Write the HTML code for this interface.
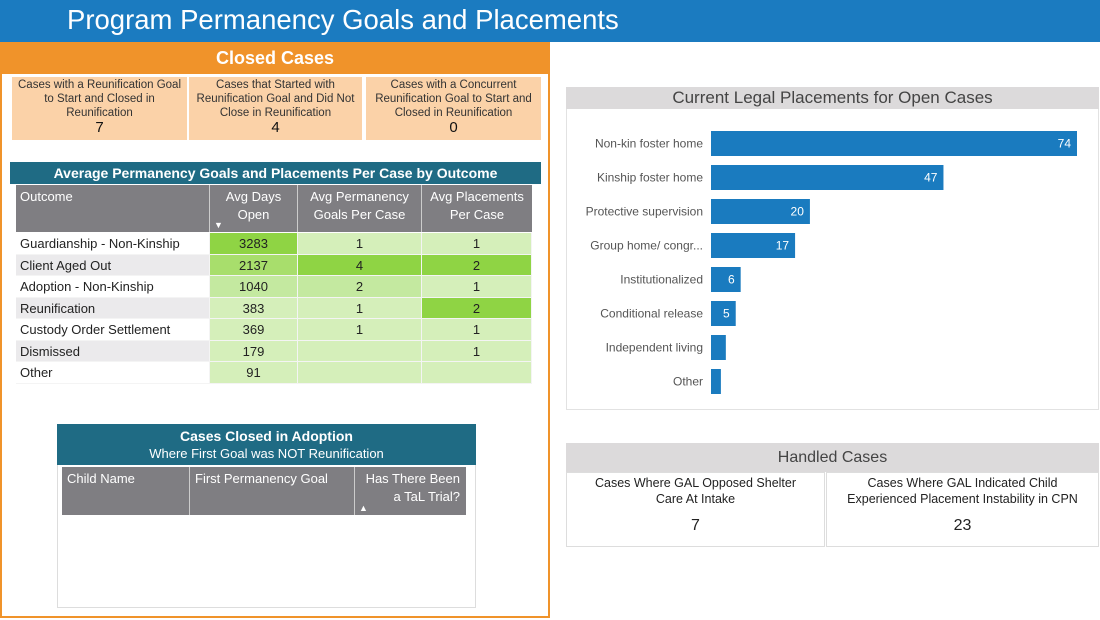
<!DOCTYPE html>
<html><head><meta charset="utf-8">
<style>
*{box-sizing:border-box;margin:0;padding:0}
body{width:1100px;height:620px;background:#fff;font-family:"Liberation Sans",sans-serif;position:relative;overflow:hidden}
.a{position:absolute}
.c{display:flex;align-items:center;justify-content:center;text-align:center}
.kpi{background:#fbd2a8;color:#333;font-size:11.5px;line-height:14px;top:77px;height:63px;padding:1px 4px 0;flex-direction:column;justify-content:flex-start}
.kpi b{font-weight:normal;font-size:15px;line-height:16px;color:#111}
.th{background:#7f7e82;color:#fff;font-size:13px;line-height:18px;border-right:1px solid #ccc}
.td{font-size:13px;color:#222;height:21.5px;line-height:21.5px}
</style></head><body>
<div class="a" style="left:0;top:0;width:1100px;height:42px;background:#1b7bc0"></div>
<div class="a" style="left:67px;top:4px;font-size:27.5px;color:#fff">Program Permanency Goals and Placements</div>

<div class="a" style="left:0;top:42px;width:550px;height:576px;border:2px solid #f0932a;border-top:none"></div>
<div class="a c" style="left:0;top:42px;width:550px;height:32px;background:#f0932a;color:#fff;font-size:18px;font-weight:bold">Closed Cases</div>

<div class="a c kpi" style="left:12px;width:175px">Cases with a Reunification Goal to Start and Closed in Reunification<b>7</b></div>
<div class="a c kpi" style="left:189px;width:173px">Cases that Started with Reunification Goal and Did Not Close in Reunification<b>4</b></div>
<div class="a c kpi" style="left:366px;width:175px">Cases with a Concurrent Reunification Goal to Start and Closed in Reunification<b>0</b></div>

<div class="a c" style="left:10px;top:162px;width:531px;height:22px;background:#1f6b84;color:#fff;font-size:14px;font-weight:bold">Average Permanency Goals and Placements Per Case by Outcome</div>
<div class="a" style="left:16px;top:185px;width:516px">
 <div style="display:flex;height:47px">
  <div class="th" style="width:194px;padding:3px 4px">Outcome</div>
  <div class="th" style="width:88px;text-align:center;padding-top:3px;position:relative">Avg Days<br>Open<span style="position:absolute;left:4px;bottom:-2px;font-size:9px">▼</span></div>
  <div class="th" style="width:124px;text-align:center;padding-top:3px">Avg Permanency Goals Per Case</div>
  <div class="th" style="width:110px;text-align:center;padding-top:3px;border-right:none">Avg Placements Per Case</div>
 </div>
 <div id="rows" style="margin-top:1px"></div>
</div>

<div class="a" style="left:57px;top:424px;width:419px;height:184px;border:1px solid #ddd"></div>
<div class="a c" style="left:57px;top:424px;width:419px;height:41px;background:#1f6b84;color:#fff;font-size:14px;line-height:18px;flex-direction:column"><b>Cases Closed in Adoption</b><span style="font-size:13px">Where First Goal was NOT Reunification</span></div>
<div class="a" style="left:62px;top:467px;width:404px;height:48px;display:flex">
 <div class="th" style="width:128px;padding:3px 5px">Child Name</div>
 <div class="th" style="width:165px;padding:3px 5px">First Permanency Goal</div>
 <div class="th" style="width:111px;text-align:right;padding:3px 6px;border-right:none;position:relative">Has There Been a TaL Trial?<span style="position:absolute;left:4px;bottom:-2px;font-size:9px">▲</span></div>
</div>

<div class="a" style="left:566px;top:87px;width:533px;height:323px;border:1px solid #e2e2e2"></div>
<div class="a c" style="left:566px;top:87px;width:533px;height:22px;background:#dcdadb;color:#444;font-size:17px">Current Legal Placements for Open Cases</div>
<svg class="a" id="chart" style="left:566px;top:110px" width="533" height="295"></svg>

<div class="a c" style="left:566px;top:443px;width:533px;height:29px;background:#dcdadb;color:#444;font-size:16px">Handled Cases</div>
<div class="a c" style="left:566px;top:472px;width:259px;height:75px;border:1px solid #ddd;flex-direction:column;justify-content:flex-start;font-size:12.5px;line-height:16px;color:#222;padding-top:2px">Cases Where GAL Opposed Shelter<br>Care At Intake<span style="font-size:16px;margin-top:11px">7</span></div>
<div class="a c" style="left:826px;top:472px;width:273px;height:75px;border:1px solid #ddd;flex-direction:column;justify-content:flex-start;font-size:12.5px;line-height:16px;color:#222;padding-top:2px">Cases Where GAL Indicated Child<br>Experienced Placement Instability in CPN<span style="font-size:16px;margin-top:11px">23</span></div>

<script>
const outcomes=["Guardianship - Non-Kinship","Client Aged Out","Adoption - Non-Kinship","Reunification","Custody Order Settlement","Dismissed","Other"];
const avgDays=[3283,2137,1040,383,369,179,91];
const avgGoals=[1,4,2,1,1,null,null];
const avgPlacements=[1,2,1,2,1,1,null];
function shade(v,max){if(v==null||v<=1)return"#d5efba";const t=v/max;return t>0.9?"#8fd444":(t>0.55?"#a8de6c":(t>0.3?"#c4e9a0":"#d5efba"));}
const rows=document.getElementById('rows');
outcomes.forEach((o,i)=>{
 const r=document.createElement('div');r.style.display='flex';
 
 
 const cells=[[o,194,i%2?'#ebeaec':'#fff','left'],[avgDays[i],88,shade(avgDays[i],3283),'center'],[avgGoals[i]??'',124,shade(avgGoals[i],4),'center'],[avgPlacements[i]??'',110,shade(avgPlacements[i],2),'center']];
 cells.forEach(c=>{const d=document.createElement('div');d.className='td';d.textContent=c[0];d.style.width=c[1]+'px';d.style.background=c[2];d.style.textAlign=c[3];d.style.paddingLeft=c[3]=='left'?'4px':'0';d.style.borderRight='1px solid #f4f4f4';d.style.borderBottom='1px solid #f4f4f4';
 
 
 r.appendChild(d);});
 rows.appendChild(r);
});
const cats=["Non-kin foster home","Kinship foster home","Protective supervision","Group home/ congr...","Institutionalized","Conditional release","Independent living","Other"];
const vals=[74,47,20,17,6,5,3,2];
const svg=document.getElementById('chart');const NS="http://www.w3.org/2000/svg";
const x0=145,xs=366/74,y=i=>21+i*34,bh=25;
cats.forEach((c,i)=>{
 const t=document.createElementNS(NS,'text');t.setAttribute('x',x0-8);t.setAttribute('y',y(i)+bh/2+4);t.setAttribute('text-anchor','end');t.setAttribute('font-size','12');t.setAttribute('fill','#555');t.setAttribute('font-family','Liberation Sans, sans-serif');t.textContent=c;
 
 
 svg.appendChild(t);
 const r=document.createElementNS(NS,'rect');r.setAttribute('x',x0);r.setAttribute('y',y(i));r.setAttribute('width',vals[i]*xs);r.setAttribute('height',bh);r.setAttribute('fill','#1a7bbf');
 
 
 svg.appendChild(r);
 if(vals[i]>=5){const v=document.createElementNS(NS,'text');v.setAttribute('x',x0+vals[i]*xs-6);v.setAttribute('y',y(i)+bh/2+4);v.setAttribute('text-anchor','end');v.setAttribute('font-size','12');v.setAttribute('fill','#fff');v.setAttribute('font-family','Liberation Sans, sans-serif');v.textContent=vals[i];
 
 
 svg.appendChild(v);}
});
</script>
</body></html>
